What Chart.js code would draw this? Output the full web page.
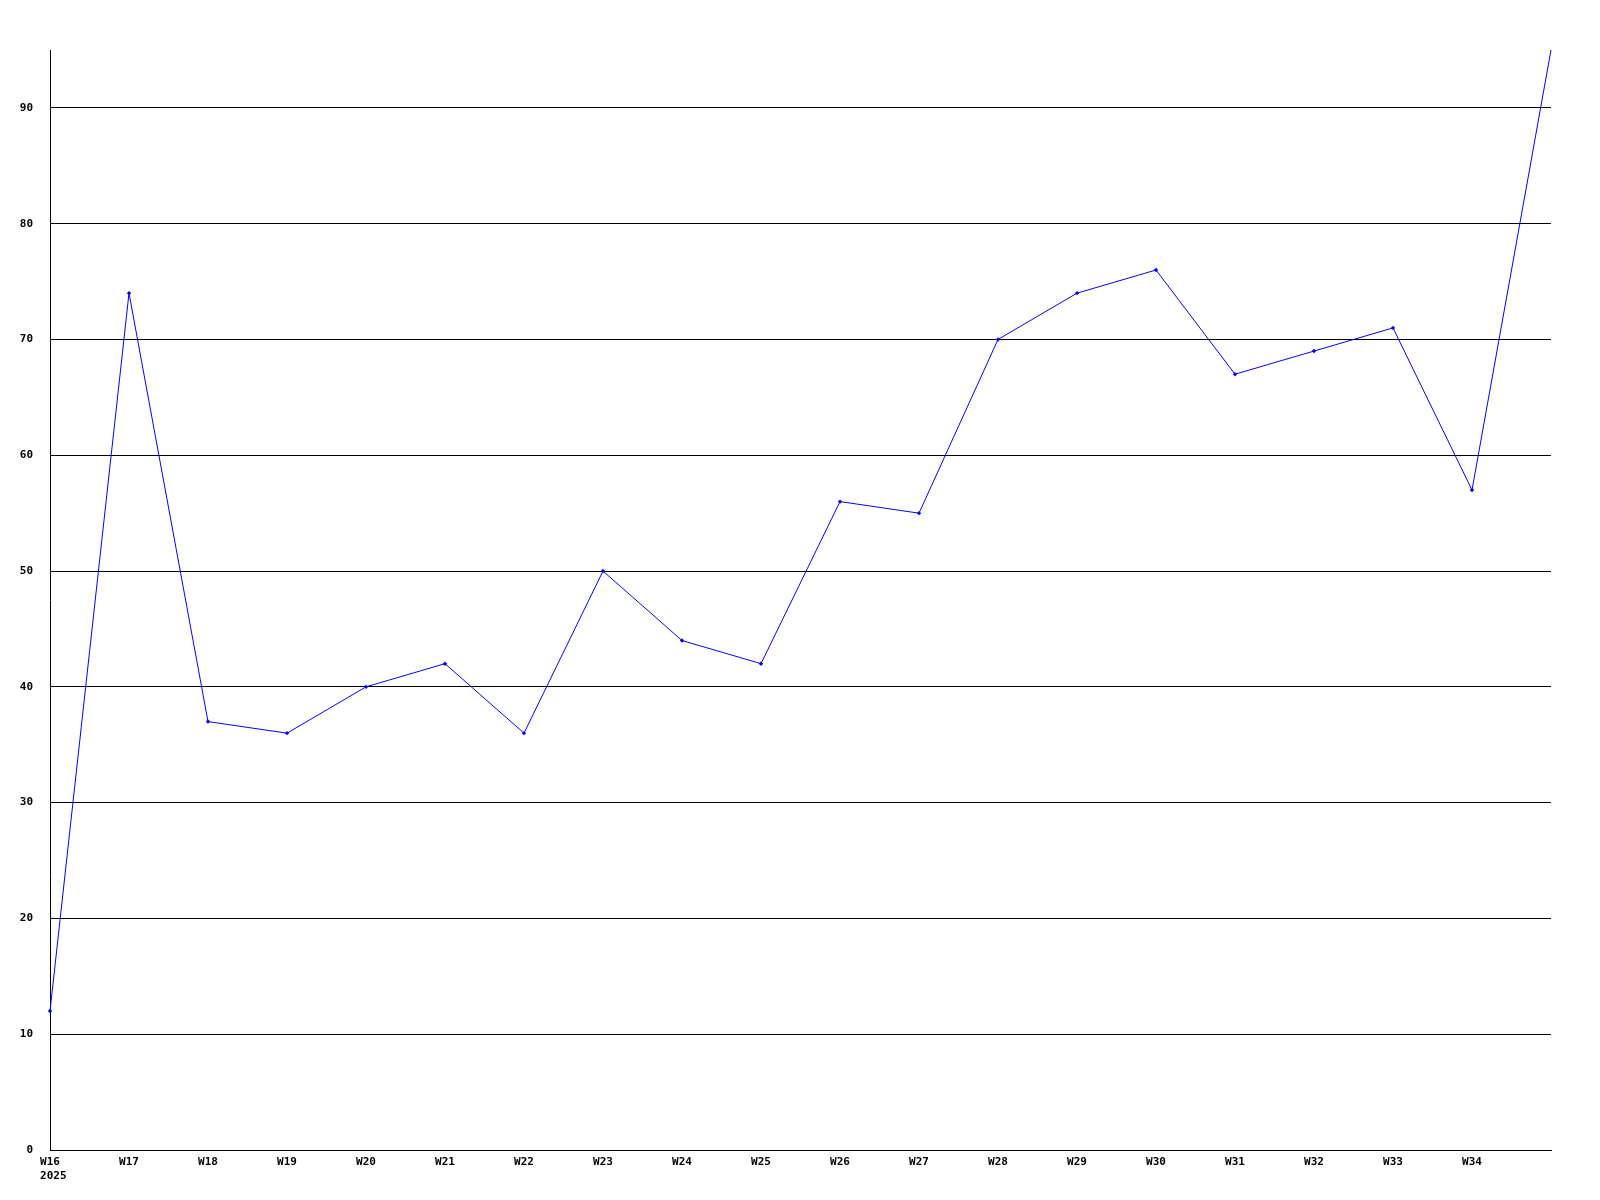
<!DOCTYPE html>
<html>
<head>
<meta charset="utf-8">
<script src="https://cdn.jsdelivr.net/npm/chart.js@4/dist/chart.umd.min.js"></script>
<style>
  html, body { margin: 0; padding: 0; background: #fff; }
  #wrap { width: 1600px; height: 1200px; }
</style>
</head>
<body>
<div id="wrap"><canvas id="chart" width="1600" height="1200"></canvas></div>
<script>
// ===== DATA =====
const weeks = ['W16', 'W17', 'W18', 'W19', 'W20', 'W21', 'W22', 'W23', 'W24', 'W25',
               'W26', 'W27', 'W28', 'W29', 'W30', 'W31', 'W32', 'W33', 'W34', 'W35'];
// year sits under the first week, flush with its left edge (leading space, monospace)
const weekLabels = [['W16', ' 2025'], 'W17', 'W18', 'W19', 'W20', 'W21', 'W22', 'W23', 'W24', 'W25',
                    'W26', 'W27', 'W28', 'W29', 'W30', 'W31', 'W32', 'W33', 'W34', ''];
const counts = [12, 74, 37, 36, 40, 42, 36, 50, 44, 42, 56, 55, 70, 74, 76, 67, 69, 71, 57, 95];
const yMax = 95;
const yStep = 10;

// ===== CHART =====
const tickFont = { family: 'DejaVu Sans Mono', size: 11, weight: 'bold' };

new Chart(document.getElementById('chart').getContext('2d'), {
    type: 'line',
    data: {
        labels: weeks,
        datasets: [{
            data: counts,
            borderColor: '#0000ff',
            backgroundColor: '#0000ff',
            borderWidth: 1,
            tension: 0,
            pointStyle: 'rectRot',
            pointRadius: ctx => ctx.dataIndex === counts.length - 1 ? 0 : 2.2,
            pointBorderWidth: 0
        }]
    },
    options: {
        responsive: false,
        animation: false,
        events: [],
        layout: { padding: { top: 50, right: 49, left: 0, bottom: 0 } },
        plugins: { legend: { display: false }, tooltip: { enabled: false } },
        scales: {
            x: {
                offset: false,
                grid: { display: false, drawTicks: false },
                border: { display: true, color: '#000', width: 1 },
                ticks: {
                    color: '#000',
                    font: tickFont,
                    padding: 6,
                    maxRotation: 0,
                    autoSkip: false,
                    callback: (v, i) => weekLabels[i]
                },
                afterFit: s => { s.height = 50; }
            },
            y: {
                min: 0,
                max: yMax,
                grid: { color: '#000', lineWidth: 1, drawTicks: false },
                border: { display: true, color: '#000', width: 1 },
                ticks: {
                    color: '#000',
                    font: tickFont,
                    padding: 17,
                    stepSize: yStep
                },
                afterBuildTicks: s => { s.ticks = s.ticks.filter(t => t.value % yStep === 0); },
                afterFit: s => { s.width = 50; }
            }
        }
    }
});
</script>
</body>
</html>
